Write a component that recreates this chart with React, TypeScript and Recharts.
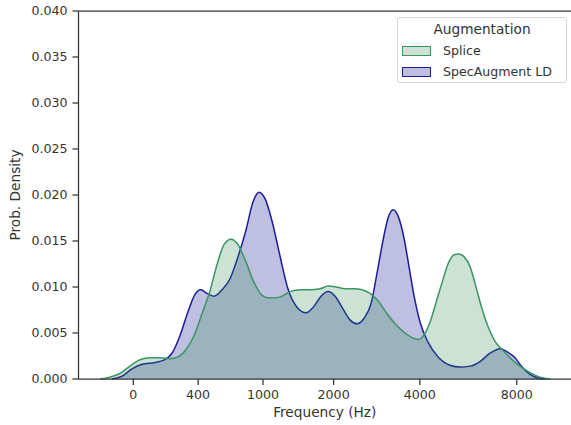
import React from "react";
import { AreaChart, Area, XAxis, YAxis, ReferenceLine, Legend, Label } from "recharts";

// x positions are on the warped (mel-like) frequency axis: w = ln(1 + f/800)
const specPos = [-0.133, -0.071, -0.008, 0.054, 0.136, 0.198, 0.242, 0.292, 0.342, 0.386, 0.423, 0.461, 0.505, 0.555, 0.605, 0.655, 0.705, 0.748, 0.786, 0.824, 0.867, 0.917, 0.967, 1.024, 1.08, 1.13, 1.174, 1.218, 1.262, 1.312, 1.356, 1.4, 1.443, 1.487, 1.525, 1.562, 1.593, 1.625, 1.656, 1.693, 1.725, 1.756, 1.793, 1.843, 1.906, 1.981, 2.043, 2.106, 2.168, 2.231, 2.293, 2.343, 2.387, 2.431, 2.481, 2.543, 2.575];
const specDensity = [0, 0.0003, 0.0011, 0.0016, 0.0018, 0.0021, 0.0028, 0.0047, 0.0073, 0.0092, 0.0097, 0.0093, 0.009, 0.0097, 0.0109, 0.0133, 0.0162, 0.0192, 0.0203, 0.0196, 0.0172, 0.0134, 0.0098, 0.0078, 0.0072, 0.0079, 0.009, 0.0095, 0.009, 0.0076, 0.0064, 0.006, 0.0066, 0.0082, 0.0116, 0.0151, 0.0175, 0.0184, 0.0177, 0.0153, 0.0121, 0.009, 0.0062, 0.004, 0.0024, 0.0015, 0.0013, 0.0014, 0.0019, 0.0028, 0.0033, 0.0029, 0.0023, 0.0013, 0.0005, 0.00005, 0];

const splicePos = [-0.208, -0.146, -0.083, -0.021, 0.042, 0.104, 0.167, 0.23, 0.28, 0.33, 0.38, 0.43, 0.48, 0.523, 0.567, 0.611, 0.655, 0.705, 0.755, 0.805, 0.855, 0.917, 0.98, 1.043, 1.105, 1.168, 1.218, 1.268, 1.324, 1.387, 1.43, 1.48, 1.53, 1.587, 1.643, 1.699, 1.743, 1.781, 1.818, 1.856, 1.893, 1.931, 1.968, 2.006, 2.037, 2.068, 2.106, 2.143, 2.181, 2.218, 2.262, 2.306, 2.356, 2.418, 2.481, 2.543, 2.606];
const spliceDensity = [0, 0.0002, 0.0006, 0.0014, 0.0021, 0.0023, 0.0023, 0.0022, 0.0024, 0.0032, 0.0047, 0.0071, 0.0096, 0.0124, 0.0146, 0.0152, 0.0146, 0.0127, 0.0105, 0.0091, 0.0088, 0.0089, 0.0095, 0.0097, 0.0097, 0.0098, 0.0101, 0.01, 0.0098, 0.0098, 0.0097, 0.0093, 0.0085, 0.0071, 0.0059, 0.005, 0.0045, 0.0043, 0.0048, 0.0062, 0.0083, 0.0105, 0.0125, 0.0135, 0.0136, 0.0133, 0.0122, 0.01, 0.0076, 0.0057, 0.0041, 0.0032, 0.0023, 0.0014, 0.0007, 0.0002, 0];

const freqTicks = [0, 400, 1000, 2000, 4000, 8000];
const yTicks = [0, 0.005, 0.01, 0.015, 0.02, 0.025, 0.03, 0.035, 0.04];
const seriesNames = ["Splice", "SpecAugment LD"];
const legendTitle = "Augmentation";

const warp = (f: number) => Math.log(1 + f / 800);

const specData = specPos.map((w, i) => ({ w, d: specDensity[i] }));
const spliceData = splicePos.map((w, i) => ({ w, d: spliceDensity[i] }));
const tickPositions = freqTicks.map(warp);
const tickLabelFor = (v: number) => {
  const idx = tickPositions.findIndex((t) => Math.abs(t - v) < 1e-6);
  return idx >= 0 ? String(freqTicks[idx]) : "";
};

const FONT = "DejaVu Sans, Verdana, sans-serif";
const TEXT = "#333333";
const AXIS = "#333333";
const GREEN = "#2e8b57";
const GREEN_LINE = "#3a9463";
const BLUE = "#00008b";
const BLUE_LINE = "#1c1c9a";

const LegendBox = () => (
  <div
    style={{
      boxSizing: "border-box",
      width: 170,
      height: 66,
      border: "1px solid #d6d6d6",
      borderRadius: 3,
      background: "rgba(255,255,255,0.8)",
      fontFamily: FONT,
      color: TEXT,
      position: "relative",
    }}
  >
    <div style={{ position: "absolute", left: 0, width: 168, top: 3, textAlign: "center", fontSize: 13.7, lineHeight: "16px" }}>
      {legendTitle}
    </div>
    {seriesNames.map((name, i) => (
      <div key={name} style={{ position: "absolute", left: 4, top: 28 + i * 21 }}>
        <div
          style={{
            position: "absolute",
            left: 0,
            top: 0,
            width: 29,
            height: 10,
            boxSizing: "border-box",
            border: `1.5px solid ${i === 0 ? GREEN_LINE : BLUE_LINE}`,
            background: i === 0 ? "rgba(46,139,87,0.25)" : "rgba(0,0,139,0.25)",
          }}
        />
        <div style={{ position: "absolute", left: 41, top: -3, fontSize: 12.6, lineHeight: "16px", whiteSpace: "nowrap" }}>
          {name}
        </div>
      </div>
    ))}
  </div>
);

export default function App() {
  return (
    <div style={{ position: "absolute", left: 0, top: 0, width: 571, height: 425, background: "#fff" }}>
      <AreaChart width={571} height={425} margin={{ top: 11, right: 0, bottom: 0, left: 0 }}>
        <XAxis
          type="number"
          dataKey="w"
          domain={[-0.3425, 2.737]}
          allowDataOverflow
          ticks={tickPositions}
          tickFormatter={tickLabelFor}
          interval={0}
          height={46}
          tickSize={6}
          tickMargin={5}
          stroke={AXIS}
          strokeWidth={1.25}
          tick={{ fill: TEXT, fontSize: 12.6, fontFamily: FONT }}
        >
          <Label
            content={(props: any) => {
              const vb = props.viewBox || {};
              return (
                <text
                  x={vb.x + vb.width / 2}
                  y={417}
                  textAnchor="middle"
                  fill={TEXT}
                  fontSize={13.7}
                  fontFamily={FONT}
                >
                  Frequency (Hz)
                </text>
              );
            }}
          />
        </XAxis>
        <YAxis
          type="number"
          domain={[0, 0.04]}
          ticks={yTicks}
          tickFormatter={(v: number) => v.toFixed(3)}
          width={78.5}
          tickSize={6}
          tickMargin={5}
          interval={0}
          stroke={AXIS}
          strokeWidth={1.25}
          tick={{ fill: TEXT, fontSize: 12.6, fontFamily: FONT }}
        >
          <Label
            content={(props: any) => {
              const vb = props.viewBox || {};
              const cy = vb.y + vb.height / 2;
              return (
                <text
                  x={20}
                  y={cy}
                  transform={`rotate(-90 20 ${cy})`}
                  textAnchor="middle"
                  fill={TEXT}
                  fontSize={13.7}
                  fontFamily={FONT}
                >
                  Prob. Density
                </text>
              );
            }}
          />
        </YAxis>
        <ReferenceLine y={0.04} stroke={AXIS} strokeWidth={1.25} ifOverflow="visible" />
        <Area
          data={specData}
          dataKey="d"
          type="monotone"
          stroke={BLUE_LINE}
          strokeWidth={1.5}
          fill={BLUE}
          fillOpacity={0.25}
          isAnimationActive={false}
          dot={false}
          activeDot={false}
          name={seriesNames[1]}
        />
        <Area
          data={spliceData}
          dataKey="d"
          type="monotone"
          stroke={GREEN_LINE}
          strokeWidth={1.5}
          fill={GREEN}
          fillOpacity={0.25}
          isAnimationActive={false}
          dot={false}
          activeDot={false}
          name={seriesNames[0]}
        />
        <Legend
          layout="vertical"
          align="center"
          verticalAlign="middle"
          content={() => <LegendBox />}
          wrapperStyle={{ position: "absolute", left: 397, top: 17, width: 170, height: 66 }}
        />
      </AreaChart>
    </div>
  );
}
